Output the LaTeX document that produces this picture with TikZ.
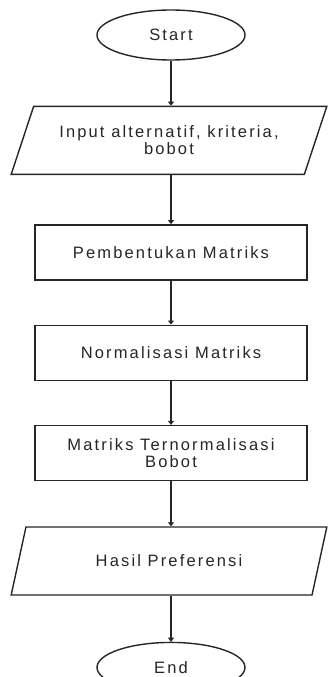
\documentclass[tikz,border=0pt]{standalone}
\usepackage{fontspec}
\newfontfamily\flowfont{Liberation Sans}[LetterSpace=13]
\usetikzlibrary{positioning,shapes.geometric,arrows.meta}

\begin{document}
\begin{tikzpicture}[x=1pt, y=1pt,
terminal/.style={ellipse, draw=black!85, line width=1.4pt, minimum width=148pt, minimum height=50pt, inner sep=0pt},
io/.style={trapezium, trapezium left angle=58, trapezium right angle=122, trapezium stretches=true, draw=black!85, line width=1.4pt, minimum width=316pt, minimum height=68pt, inner sep=0pt, align=center},
process/.style={rectangle, draw=black!85, line width=1.4pt, minimum width=272pt, minimum height=55pt, inner sep=0pt, align=center},
connector/.style={draw=black!85, line width=1.4pt, -{Triangle[length=4pt,width=6pt]}},
every node/.style={font=\flowfont\fontsize{16.5}{17}\selectfont, text=black!85}
]
\useasboundingbox (0,0) rectangle (329,-677);
%Nodes
\node[terminal]   (start)                                  at (171,-35) {Start};
\node[io]         (input)     [below=45pt of start, xshift=-2pt] {Input alternatif, kriteria,\\bobot};
\node[process]    (bentuk)    [below=49pt of input, xshift=2pt]  {Pembentukan Matriks};
\node[process]    (normal)    [below=44pt of bentuk]       {Normalisasi Matriks};
\node[process]    (bobot)     [below=44pt of normal]       {Matriks Ternormalisasi\\Bobot};
\node[io]         (hasil)     [below=45pt of bobot, xshift=-2pt] {Hasil Preferensi};
\node[terminal]   (end)       [below=46pt of hasil, xshift=2pt]  {End};
%Lines
\draw[connector] (start) -- (start |- input.north);
\draw[connector] (start |- input.south) -- (bentuk);
\draw[connector] (bentuk) -- (normal);
\draw[connector] (normal) -- (bobot);
\draw[connector] (bobot) -- (bobot |- hasil.north);
\draw[connector] (bobot |- hasil.south) -- (end);
\end{tikzpicture}
\end{document}
